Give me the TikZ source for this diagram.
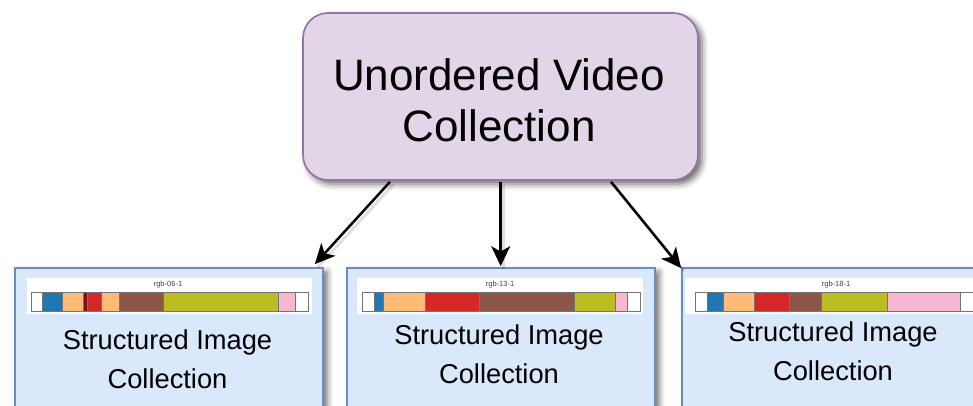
\documentclass[tikz,border=0pt]{standalone}
\usepackage{fontspec}
\setmainfont{Liberation Sans}
\usetikzlibrary{arrows.meta,calc,shadows.blur}

\definecolor{vidfill}{HTML}{E1D5E7}
\definecolor{vidline}{HTML}{9673A6}
\definecolor{colfill}{HTML}{DAE8FC}
\definecolor{colline}{HTML}{6C8EBF}
\definecolor{sblue}{HTML}{1F77B4}
\definecolor{sorange}{HTML}{FFBB78}
\definecolor{sred}{HTML}{D62728}
\definecolor{sdarkred}{HTML}{6E1818}
\definecolor{sbrown}{HTML}{8C564B}
\definecolor{solive}{HTML}{BCBD22}
\definecolor{spink}{HTML}{F7B6D2}

\tikzset{
  boxshadow/.style={blur shadow={shadow xshift=4pt,shadow yshift=-4pt,
      shadow blur radius=6pt,shadow opacity=60}},
  videobox/.style={draw=vidline,fill=vidfill,line width=1.7pt,
      rounded corners=25pt,minimum width=395pt,minimum height=167pt,boxshadow},
  collbox/.style={draw=colline,fill=colfill,line width=1.7pt,
      minimum width=308pt,minimum height=162pt,boxshadow},
  bigtext/.style={font=\fontsize{44}{51}\selectfont,align=center,inner sep=0pt},
  coltext/.style={font=\fontsize{27.3}{38.5}\selectfont,align=center,inner sep=0pt},
  striplabel/.style={font=\fontsize{7.5}{8}\selectfont,text=black!75,inner sep=0pt},
  segment/.style={draw=black!55,line width=0.4pt},
  flow/.style={line width=2.5pt,-{Stealth[length=20pt,width=19pt,inset=5.5pt]}},
}

% a timeline strip: white panel, title, and coloured segments
\newcommand{\segstrip}[5]{% #1 panel left, #2 panel right, #3 title x, #4 title, #5 segments
  \fill[white] (#1,278) rectangle (#2,314);
  \node[striplabel] at (#3,285) {#4};
  \foreach \a/\b/\c in {#5}{
    \filldraw[segment,fill=\c] (\a,292) rectangle (\b,311);
  }
}

\begin{document}
\begin{tikzpicture}[x=1pt,y=-1pt]
\useasboundingbox (0,0) rectangle (973,405);
\clip (0,0) rectangle (973,405);

% source collection
\node[videobox] (top) at (500.5,96.5) {};
\node[bigtext] (toptxt) at (499,100) {Unordered Video\\Collection};

% structured collections
\node[collbox] (box1) at (169,349) {};
\node[collbox] (box2) at (501,349) {};
\node[collbox] (box3) at (836,349) {};

\segstrip{27}{312}{168}{rgb-06-1}{31/42/white,42/62/sblue,62/83/sorange,83/87/sdarkred,
  87/101/sred,101/119/sorange,119/163/sbrown,163/278/solive,278/295/spink,295/308/white}
\segstrip{357}{643}{500}{rgb-13-1}{362/374/white,374/383/sblue,383/425/sorange,
  425/479/sred,479/574/sbrown,574/615/solive,615/627/spink,627/640/white}
\segstrip{685}{990}{836}{rgb-18-1}{695/707/white,707/723/sblue,723/754/sorange,
  754/789/sred,789/821/sbrown,821/887/solive,887/960/spink,960/985/white}

\node[coltext] (txt1) at (167.5,359) {Structured Image\\Collection};
\node[coltext] (txt2) at (499,354) {Structured Image\\Collection};
\node[coltext] (txt3) at (833,351) {Structured Image\\Collection};

% connectors
\coordinate (s1) at ($(top.south)+(-110.5,1)$);
\coordinate (s2) at ($(top.south)+(0.2,1)$);
\coordinate (s3) at ($(top.south)+(110.5,1)$);
\coordinate (t1) at ($(box1.north east)+(-9,-3)$);
\coordinate (t2) at ($(box2.north)+(-0.3,-1)$);
\coordinate (t3) at ($(box3.north west)+(0,1)$);

\foreach \s/\t in {s1/t1,s2/t2,s3/t3}{
  \draw[line width=3pt,black,opacity=0.12] ($(\s)+(3,3)$) -- ($(\t)+(3,3)$);
  \draw[flow] (\s) -- (\t);
}
\end{tikzpicture}
\end{document}
